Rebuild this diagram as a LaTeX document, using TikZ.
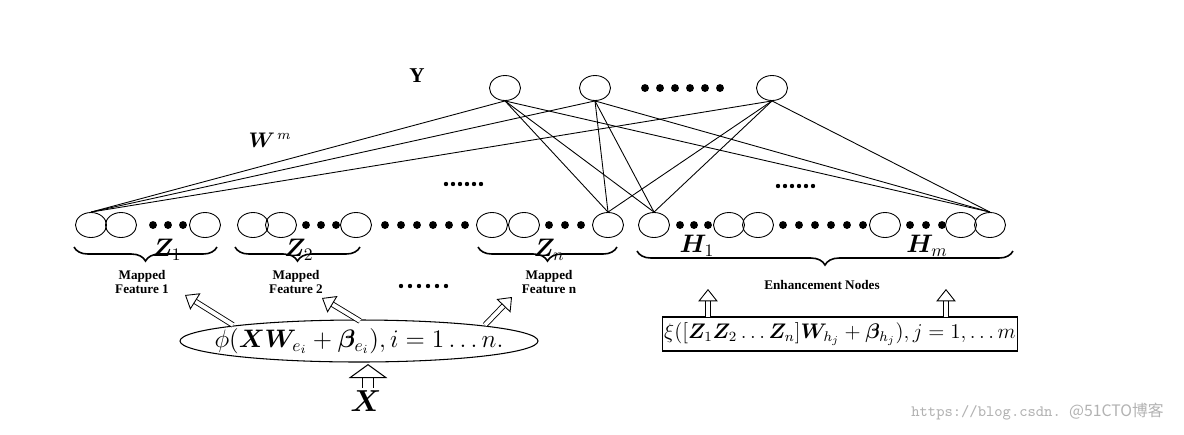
\documentclass[tikz,border=0pt]{standalone}
\usepackage{fontspec}
\setmainfont{Liberation Serif}
\newfontfamily\cjk{Noto Sans CJK SC}
\usepackage{amsmath,bm}
\usetikzlibrary{arrows.meta,decorations.pathreplacing,shapes.geometric}
\begin{document}
\begin{tikzpicture}[x=0.02cm,y=-0.02cm,
  nd/.style={draw,ellipse,minimum width=0.62cm,minimum height=0.5cm,inner sep=0pt,line width=0.5pt},
  dot/.style={circle,fill,inner sep=0pt,minimum size=4.5pt},
  sdot/.style={circle,fill,inner sep=0pt,minimum size=2.5pt},
  ln/.style={line width=0.5pt},
  br/.style={decorate,decoration={brace,mirror,amplitude=8pt},line width=0.9pt},
  small/.style={font=\bfseries\fontsize{7.5}{8.5}\selectfont,align=center},
  harrow/.style={double,double distance=2.2pt,line width=0.5pt,-{Triangle[open,length=7pt,width=11pt]}}]
\useasboundingbox (0,0) rectangle (1184,434);
% Y nodes
\node[nd] (y1) at (505,88) {};
\node[nd] (y2) at (595,88) {};
\node[nd] (y3) at (772,88) {};
\foreach \x in {645,660,...,722} \node[dot] at (\x,88) {};
\node[font=\bfseries\large] (ylab) at (417,76) {Y};
\node[font=\large] (wlab) at (270,140) {$\bm{W}^{\,m}$};
% bottom nodes
\foreach \n/\x in {a/91,b/121,c/205,d/253,e/281,f/356,g/492,h/524,i/608,j/654,k/729,l/758,m/885,n/961,o/990}
  \node[nd] (\n) at (\x,225) {};
\foreach \x in {153,168,183} \node[dot] at (\x,225) {};
\foreach \x in {306,321,336} \node[dot] at (\x,225) {};
\foreach \x in {549,565,581} \node[dot] at (\x,225) {};
\foreach \x in {385,401,...,465} \node[dot] at (\x,225) {};
\foreach \x in {680,694,708} \node[dot] at (\x,225) {};
\foreach \x in {783,799,...,863} \node[dot] at (\x,225) {};
\foreach \x in {910,926,942} \node[dot] at (\x,225) {};
\foreach \x in {446,453,...,481} \node[sdot] at (\x,184) {};
\foreach \x in {778,785,...,813} \node[sdot] at (\x,186) {};
\foreach \x in {401,410,...,446} \node[sdot] at (\x,286) {};
% connections
\foreach \s in {a,i,j,o} \foreach \t in {y1,y2,y3} \draw[ln] (\s.north) -- (\t.south);
% braces
\draw[br] (74,247) -- (217,247);
\draw[br] (235,247) -- (360,247);
\draw[br] (478,247) -- (617,247);
\draw[br] (637,251) -- (1013,251);
\node[font=\Large] (z1) at (167,250) {$\bm{Z}_{1}$};
\node[font=\Large] (z2) at (299,250) {$\bm{Z}_{2}$};
\node[font=\Large] (zn) at (549,250) {$\bm{Z}_{n}$};
\node[font=\Large] (h1) at (697,246) {$\bm{H}_{1}$};
\node[font=\Large] (hm) at (927,246) {$\bm{H}_{m}$};
\node[small] (mf1) at (142,282) {Mapped\\Feature 1};
\node[small] (mf2) at (296,282) {Mapped\\Feature 2};
\node[small] (mfn) at (549,282) {Mapped\\Feature n};
\node[small] (en) at (822,285) {Enhancement Nodes};
% ellipse
\node[inner sep=0pt,font=\Large] (phi) at (359,341)
  {$\phi(\bm{XW}_{e_i}+\bm{\beta}_{e_i}),i=1\ldots n.$};
\draw[line width=0.6pt] (phi.center) ellipse [x radius=179, y radius=21];
\coordinate (p1) at (233,325); \coordinate (q1) at (185,295);
\coordinate (p2) at (360,321); \coordinate (q2) at (322,298);
\coordinate (p3) at (485,325); \coordinate (q3) at (512,297);
\draw[harrow] (p1) -- (q1);
\draw[harrow] (p2) -- (q2);
\draw[harrow] (p3) -- (q3);
\node[font=\LARGE] (x) at (366,401) {$\bm{X}$};
\coordinate (xa) at (368,388); \coordinate (xb) at (368,364);
\draw[double,double distance=6pt,line width=0.6pt,-{Triangle[open,length=8pt,width=22pt]}] (xa) -- (xb);
% box
\node[draw,line width=0.6pt,minimum width=5.96cm,minimum height=0.68cm,inner sep=1pt,font=\large] (xi) at (840,334)
  {$\xi([\bm{Z}_1\bm{Z}_2\ldots\bm{Z}_n]\bm{W}_{h_j}+\bm{\beta}_{h_j}),j=1,\ldots m$};
\coordinate (u1) at (708,317); \coordinate (v1) at (708,289);
\coordinate (u2) at (946,317); \coordinate (v2) at (946,289);
\draw[harrow] (u1) -- (v1);
\draw[harrow] (u2) -- (v2);
\node[text=gray!60,font=\small\ttfamily,anchor=east] (wm) at (1170,412) {https://blog.csdn.\ {\cjk @51CTO博客}};
\end{tikzpicture}
\end{document}
